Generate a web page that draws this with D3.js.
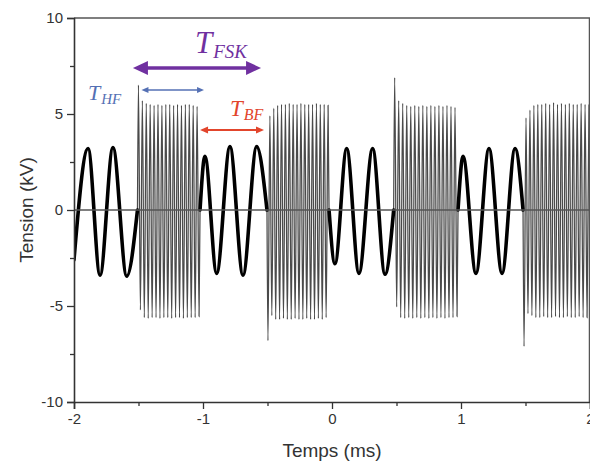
<!DOCTYPE html>
<html>
<head>
<meta charset="utf-8">
<script src="https://cdn.jsdelivr.net/npm/d3@7"></script>
<style>
  html, body { margin: 0; padding: 0; background: #fff; }
  svg { display: block; }
  text { font-family: "Liberation Sans", Arial, sans-serif; }
</style>
</head>
<body>
<svg id="chart" width="590" height="461"></svg>
<script>
// ---------------- DATA ----------------
// Axes
const xTicks = [-2, -1, 0, 1, 2];
const xMinorTicks = [-1.5, -0.5, 0.5, 1.5];
const yTicks = [-10, -5, 0, 5, 10];
const yMinorTicks = [-7.5, -2.5, 2.5, 7.5];

// Low-frequency (BF) bursts: extrema (time in ms, tension in kV)
const lf1Times  = [-2.0, -1.891, -1.798, -1.698, -1.591, -1.508];
const lf1Values = [-2.6,  3.2,   -3.4,    3.25,  -3.45,   0];
const lf2Times  = [-1.023, -0.985, -0.894, -0.791, -0.690, -0.584, -0.504];
const lf2Values = [ 0,      2.8,   -3.3,    3.3,   -3.4,    3.3,    0];
const lf3Times  = [-0.023, 0.023, 0.114, 0.209, 0.315, 0.411, 0.478];
const lf3Values = [ 0,    -2.8,   3.2,  -3.3,   3.2,  -3.35,  0];
const lf4Times  = [0.977, 1.016, 1.116, 1.217, 1.318, 1.419, 1.481];
const lf4Values = [0,     2.8,  -3.3,   3.2,  -3.3,   3.2,   0];

// High-frequency (HF) bursts: start / end time (ms) and successive extrema (kV)
const hfStarts = [-1.508, -0.504, 0.478, 1.481];
const hfEnds   = [-1.023, -0.023, 0.977, 2.0];
const hf1Peaks   = [6.5, 5.7, 5.55, 5.5, 5.45, 5.5, 5.45, 5.5, 5.5, 5.45, 5.5, 5.45, 5.5, 5.5, 5.45, 5.4];
const hf1Troughs = [-5.2, -5.6, -5.65, -5.6, -5.6, -5.65, -5.6, -5.6, -5.65, -5.6, -5.6, -5.65, -5.6, -5.6, -5.6, -5.55];
const hf2Troughs = [-6.8, -5.5, -5.7, -5.7, -5.65, -5.7, -5.7, -5.65, -5.7, -5.7, -5.65, -5.7, -5.7, -5.65, -5.7, -5.6];
const hf2Peaks   = [4.9, 5.3, 5.45, 5.5, 5.5, 5.55, 5.5, 5.5, 5.55, 5.5, 5.5, 5.5, 5.55, 5.5, 5.5, 5.45];
const hf3Peaks   = [6.9, 5.7, 5.55, 5.45, 5.4, 5.45, 5.4, 5.45, 5.4, 5.45, 5.4, 5.45, 5.4, 5.45, 5.4, 5.35];
const hf3Troughs = [-5.05, -5.6, -5.65, -5.6, -5.65, -5.6, -5.65, -5.6, -5.65, -5.6, -5.65, -5.6, -5.65, -5.6, -5.6, -5.55];
const hf4Troughs = [-7.1, -5.4, -5.5, -5.6, -5.6, -5.55, -5.6, -5.6, -5.55, -5.6, -5.6, -5.55, -5.6, -5.6, -5.55, -5.6, -5.6];
const hf4Peaks   = [4.8, 5.2, 5.45, 5.5, 5.5, 5.55, 5.5, 5.6, 5.5, 5.55, 5.5, 5.55, 5.5, 5.5, 5.55, 5.5, 5.5];

// ---------------- CHART ----------------
const svg = d3.select("#chart");
const pLeft = 74, pRight = 590, pTop = 18, pBottom = 402;
const x = d3.scaleLinear().domain([-2, 2]).range([pLeft, pRight]);
const y = d3.scaleLinear().domain([-10, 10]).range([pBottom, pTop]);

svg.append("defs").append("clipPath").attr("id", "plotclip")
  .append("rect").attr("x", pLeft).attr("y", pTop).attr("width", pRight - pLeft).attr("height", pBottom - pTop);

const plot = svg.append("g").attr("clip-path", "url(#plotclip)");

const line = d3.line().x(d => x(d[0])).y(d => y(d[1])).curve(d3.curveMonotoneX);

// HF bursts
function interleave(first, second) {
  const out = [];
  for (let i = 0; i < Math.max(first.length, second.length); i++) {
    if (i < first.length) out.push(first[i]);
    if (i < second.length) out.push(second[i]);
  }
  return out;
}
const hfExtrema = [
  interleave(hf1Peaks, hf1Troughs),
  interleave(hf2Troughs, hf2Peaks),
  interleave(hf3Peaks, hf3Troughs),
  interleave(hf4Troughs, hf4Peaks)
];
hfExtrema.forEach((vals, k) => {
  const s = hfStarts[k], e = hfEnds[k], step = (e - s) / vals.length;
  const pts = [[s, 0]].concat(vals.map((v, i) => [s + (i + 0.5) * step, v]));
  if (e < 2) pts.push([e, 0]);
  plot.append("path").attr("d", line(pts))
    .attr("fill", "none").attr("stroke", "#4a4a4a").attr("stroke-width", 1.25);
});

// LF bursts
[[lf1Times, lf1Values], [lf2Times, lf2Values], [lf3Times, lf3Values], [lf4Times, lf4Values]]
  .forEach(([ts, vs]) => {
    plot.append("path").attr("d", line(ts.map((t, i) => [t, vs[i]])))
      .attr("fill", "none").attr("stroke", "#000").attr("stroke-width", 3.6)
      .attr("stroke-linejoin", "round").attr("stroke-linecap", "round");
  });

// Zero line
plot.append("line").attr("x1", pLeft).attr("x2", pRight).attr("y1", y(0)).attr("y2", y(0))
  .attr("stroke", "#555").attr("stroke-width", 1.3);

// Frame
svg.append("line").attr("x1", pLeft).attr("x2", pRight).attr("y1", pTop).attr("y2", pTop)
  .attr("stroke", "#555").attr("stroke-width", 1.5);
svg.append("line").attr("x1", pRight - 0.5).attr("x2", pRight - 0.5).attr("y1", pTop).attr("y2", pBottom)
  .attr("stroke", "#555").attr("stroke-width", 1.5);

// Axes
function styleAxis(g) {
  g.select(".domain").attr("stroke", "#333").attr("stroke-width", 1.6);
  g.selectAll(".tick line").attr("stroke", "#333").attr("stroke-width", 1.3);
  g.selectAll(".tick text").attr("fill", "#333").style("font-size", "15px")
    .style("font-family", "'Liberation Sans', Arial, sans-serif");
}
const xAxis = svg.append("g").attr("transform", `translate(0,${pBottom})`)
  .call(d3.axisBottom(x).tickValues(xTicks).tickSize(7).tickPadding(4).tickFormat(d => String(d)));
styleAxis(xAxis);
const xMinor = svg.append("g").attr("transform", `translate(0,${pBottom})`)
  .call(d3.axisBottom(x).tickValues(xMinorTicks).tickSize(4).tickFormat(""));
styleAxis(xMinor); xMinor.select(".domain").remove();

const yAxis = svg.append("g").attr("transform", `translate(${pLeft},0)`)
  .call(d3.axisLeft(y).tickValues(yTicks).tickSize(7).tickPadding(4).tickFormat(d => String(d)));
styleAxis(yAxis);
const yMinor = svg.append("g").attr("transform", `translate(${pLeft},0)`)
  .call(d3.axisLeft(y).tickValues(yMinorTicks).tickSize(4).tickFormat(""));
styleAxis(yMinor); yMinor.select(".domain").remove();

// Axis titles
svg.append("text").attr("x", (pLeft + pRight) / 2).attr("y", 457).attr("text-anchor", "middle")
  .attr("fill", "#333").style("font-size", "19px").text("Temps (ms)");
svg.append("text").attr("transform", `translate(33,${(pTop + pBottom) / 2}) rotate(-90)`).attr("text-anchor", "middle")
  .attr("fill", "#333").style("font-size", "19px").text("Tension (kV)");

// Annotations
function dblArrow(x1, x2, yy, color, w, headL, headW) {
  const X1 = x(x1), X2 = x(x2), Y = y(yy);
  svg.append("line").attr("x1", X1 + headL * 0.8).attr("x2", X2 - headL * 0.8).attr("y1", Y).attr("y2", Y)
    .attr("stroke", color).attr("stroke-width", w);
  svg.append("path").attr("d", `M${X1},${Y}L${X1 + headL},${Y - headW}L${X1 + headL},${Y + headW}Z`).attr("fill", color);
  svg.append("path").attr("d", `M${X2},${Y}L${X2 - headL},${Y - headW}L${X2 - headL},${Y + headW}Z`).attr("fill", color);
}
function label(px, py, main, sub, color, fs, subFs, subDy) {
  const t = svg.append("text").attr("x", px).attr("y", py).attr("fill", color)
    .style("font-family", "'Liberation Serif', 'DejaVu Serif', serif").style("font-style", "italic");
  t.append("tspan").style("font-size", fs + "px").text(main);
  t.append("tspan").style("font-size", subFs + "px").attr("dy", subDy).attr("dx", 1).text(sub);
}
const purple = "#7030a0", blue = "#5470b4", red = "#e2452c";
dblArrow(-1.543, -0.55, 7.4, purple, 3.5, 15, 7);
label(195, 53, "T", "FSK", purple, 31, 19, 5);
dblArrow(-1.477, -0.992, 6.25, blue, 1.5, 7, 3);
label(88, 100, "T", "HF", blue, 22, 15, 4);
dblArrow(-1.023, -0.527, 4.17, red, 2, 8, 3.5);
label(230, 116, "T", "BF", red, 23, 16, 4);
</script>
</body>
</html>
